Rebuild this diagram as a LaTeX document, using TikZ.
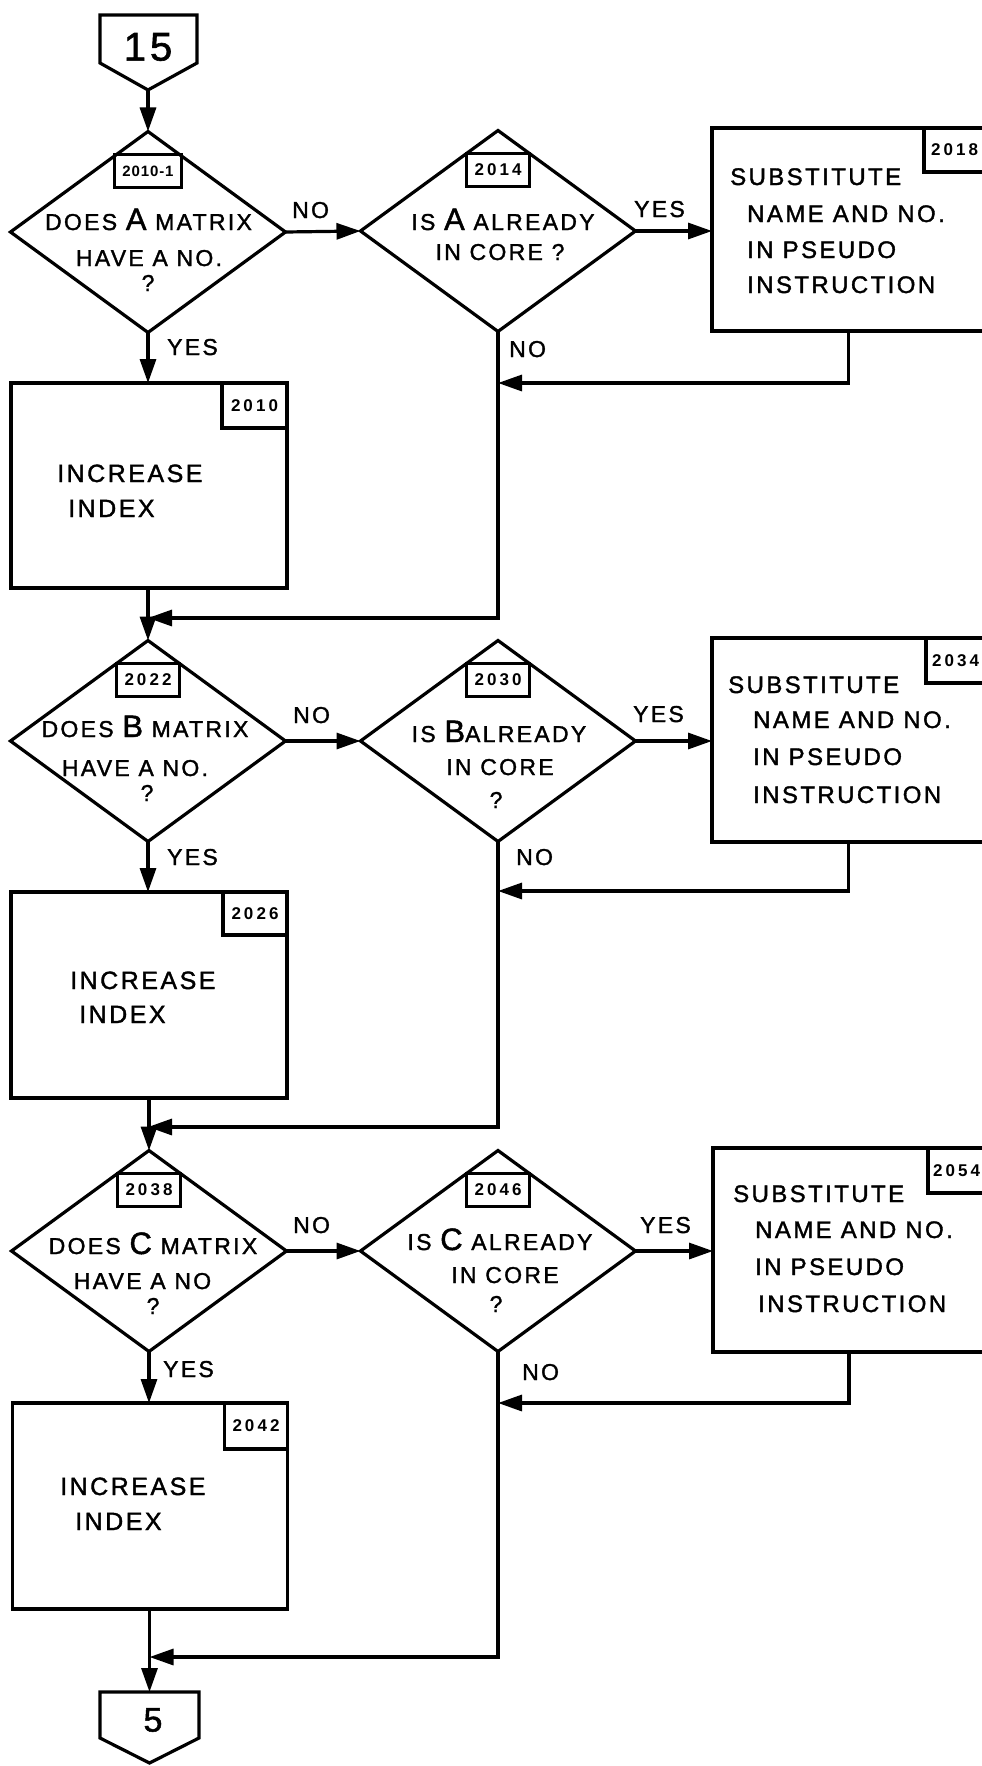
\documentclass[tikz,border=0pt]{standalone}
\usepackage{fontspec}
\usetikzlibrary{shapes.geometric,arrows.meta}
\newfontfamily\hand{Liberation Sans}[LetterSpace=10,FakeBold=1.5]
\newfontfamily\handnum{Liberation Sans}[LetterSpace=18]
\newfontfamily\handnumb{Liberation Sans}[LetterSpace=6]
\newcommand\Ltr[1]{{\fontsize{31}{31}\selectfont #1}}
\begin{document}
\begin{tikzpicture}[x=1pt,y=-1pt,
  ln/.style={line width=3.2pt,line join=miter},
  arr/.style={line width=3.2pt,-{Triangle[length=24pt,width=16pt]}},
  dec/.style={diamond,draw,line width=3.2pt,minimum width=275pt,minimum height=201pt,inner sep=0pt,outer sep=0pt},
  proc/.style={rectangle,draw,line width=3.2pt,inner sep=0pt,outer sep=0pt},
  numbox/.style={proc,font=\handnum\bfseries\fontsize{17}{17}\selectfont},
  tx/.style={inner sep=0pt,anchor=base,font=\hand\fontsize{23}{27}\selectfont},
  btx/.style={inner sep=0pt,anchor=base west,font=\hand\fontsize{24}{28}\selectfont},
  itx/.style={inner sep=0pt,anchor=base west,font=\hand\fontsize{25}{29}\selectfont},
  lab/.style={inner sep=0pt,anchor=base west,font=\hand\fontsize{23}{27}\selectfont},
  ctx/.style={inner sep=0pt,font=\hand\fontsize{40}{40}\selectfont}
]
\useasboundingbox (0,0) rectangle (982,1766);
\clip (0,0) rectangle (982,1766);

% ---------- connector 15 ----------
\node[ctx] (c15) at (148,47) {15};
\coordinate (c15tip) at (148,90);
\draw[ln] (100,15) -- (197,15) -- (197,63) -- (c15tip) -- (100,63) -- cycle;

% ---------- row A ----------
\node[dec] (d1) at (148,232) {};
\node[dec] (d2) at (498,231) {};
\node[numbox,font=\handnumb\bfseries\fontsize{15}{15}\selectfont,minimum width=67pt,minimum height=33pt,anchor=north] (n1) at ([yshift=-23pt]d1.north) {2010-1};
\node[numbox,minimum width=63pt,minimum height=33pt,anchor=north] (n2) at ([yshift=-23pt]d2.north) {2014};
\node[proc,minimum width=273pt,minimum height=203pt] (s1) at (848.5,229.5) {};
\node[numbox,minimum width=61pt,minimum height=44pt,anchor=north east] (r1) at (s1.north east) {2018};
\node[proc,minimum width=276pt,minimum height=205pt] (b1) at (149,485.5) {};
\node[numbox,minimum width=65pt,minimum height=45pt,anchor=north east] (l1) at (b1.north east) {2010};

\node[tx] (t1a) at (148.5,230) {DOES \Ltr{A} MATRIX};
\node[tx] (t1b) at (149,266) {HAVE A NO.};
\node[tx] (t1c) at (148,291) {?};
\node[tx] (t2a) at (503,230) {IS \Ltr{A} ALREADY};
\node[tx] (t2b) at (500,260) {IN CORE ?};

\node[btx] (s1a) at (730,185) {SUBSTITUTE};
\node[btx] (s1b) at (747,222) {NAME AND NO.};
\node[btx] (s1c) at (747,258) {IN PSEUDO};
\node[btx] (s1d) at (747,293) {INSTRUCTION};
\node[itx] (b1a) at (57,482) {INCREASE};
\node[itx] (b1b) at (68,517) {INDEX};

\node[lab] (la1) at (292,218) {NO};
\node[lab] (la2) at (167,355) {YES};
\node[lab] (la3) at (634,217) {YES};
\node[lab] (la4) at (509,357) {NO};

\coordinate (j1) at (498,383);
\coordinate (m1) at (148,618);
\draw[arr] (c15tip) -- (d1.north);
\draw[arr] (d1.east) -- (d2.west);
\draw[arr] (d2.east) -- (d2.east -| s1.west);
\draw[arr] (d1.south) -- (d1.south |- b1.north);
\draw[arr] (s1.south) |- (j1);
\draw[arr] (d2.south) |- (m1);

% ---------- row B ----------
\node[dec] (d3) at (148,741) {};
\node[dec] (d4) at (498,741) {};
\node[numbox,minimum width=63pt,minimum height=33pt,anchor=north] (n3) at ([yshift=-23pt]d3.north) {2022};
\node[numbox,minimum width=63pt,minimum height=33pt,anchor=north] (n4) at ([yshift=-23pt]d4.north) {2030};
\node[proc,minimum width=273pt,minimum height=204pt] (s2) at (848.5,740) {};
\node[numbox,minimum width=59pt,minimum height=45pt,anchor=north east] (r2) at (s2.north east) {2034};
\node[proc,minimum width=276pt,minimum height=206pt] (b2) at (149,995) {};
\node[numbox,minimum width=64pt,minimum height=43pt,anchor=north east] (l2) at (b2.north east) {2026};

\node[tx] (t3a) at (145,737) {DOES \Ltr{B} MATRIX};
\node[tx] (t3b) at (135,776) {HAVE A NO.};
\node[tx] (t3c) at (147,801) {?};
\node[tx] (t4a) at (499,742) {IS \Ltr{B}ALREADY};
\node[tx] (t4b) at (500,775) {IN CORE};
\node[tx] (t4c) at (496,808) {?};

\node[btx] (s2a) at (728,693) {SUBSTITUTE};
\node[btx] (s2b) at (753,728) {NAME AND NO.};
\node[btx] (s2c) at (753,765) {IN PSEUDO};
\node[btx] (s2d) at (753,803) {INSTRUCTION};
\node[itx] (b2a) at (70,989) {INCREASE};
\node[itx] (b2b) at (79,1023) {INDEX};

\node[lab] (lb1) at (293,723) {NO};
\node[lab] (lb2) at (167,865) {YES};
\node[lab] (lb3) at (633,722) {YES};
\node[lab] (lb4) at (516,865) {NO};

\coordinate (j2) at (498,891);
\coordinate (m2) at (148,1127);
\draw[arr] (d3.north |- b1.south) -- (d3.north);
\draw[arr] (d3.east) -- (d4.west);
\draw[arr] (d4.east) -- (d4.east -| s2.west);
\draw[arr] (d3.south) -- (d3.south |- b2.north);
\draw[arr] (s2.south) |- (j2);
\draw[arr] (d4.south) |- (m2);

% ---------- row C ----------
\node[dec] (d5) at (149,1251) {};
\node[dec] (d6) at (498,1251) {};
\node[numbox,minimum width=63pt,minimum height=33pt,anchor=north] (n5) at ([yshift=-23pt]d5.north) {2038};
\node[numbox,minimum width=63pt,minimum height=33pt,anchor=north] (n6) at ([yshift=-23pt]d6.north) {2046};
\node[proc,minimum width=272pt,minimum height=204pt] (s3) at (849,1250) {};
\node[numbox,minimum width=57pt,minimum height=45pt,anchor=north east] (r3) at (s3.north east) {2054};
\node[proc,minimum width=275pt,minimum height=206pt] (b3) at (150,1506) {};
\node[numbox,minimum width=63pt,minimum height=46pt,anchor=north east] (l3) at (b3.north east) {2042};

\node[tx] (t5a) at (153,1254) {DOES \Ltr{C} MATRIX};
\node[tx] (t5b) at (142.5,1289) {HAVE A NO};
\node[tx] (t5c) at (153,1314) {?};
\node[tx] (t6a) at (500,1250) {IS \Ltr{C} ALREADY};
\node[tx] (t6b) at (505,1283) {IN CORE};
\node[tx] (t6c) at (496,1312) {?};

\node[btx] (s3a) at (733,1202) {SUBSTITUTE};
\node[btx] (s3b) at (755,1238) {NAME AND NO.};
\node[btx] (s3c) at (755,1275) {IN PSEUDO};
\node[btx] (s3d) at (758,1312) {INSTRUCTION};
\node[itx] (b3a) at (60,1495) {INCREASE};
\node[itx] (b3b) at (75,1530) {INDEX};

\node[lab] (lc1) at (293,1233) {NO};
\node[lab] (lc2) at (163,1377) {YES};
\node[lab] (lc3) at (640,1233) {YES};
\node[lab] (lc4) at (522,1380) {NO};

\coordinate (j3) at (498,1403);
\coordinate (m3) at (149.5,1657);
\draw[arr] (d5.north |- b2.south) -- (d5.north);
\draw[arr] (d5.east) -- (d6.west);
\draw[arr] (d6.east) -- (d6.east -| s3.west);
\draw[arr] (d5.south) -- (d5.south |- b3.north);
\draw[arr] (s3.south) |- (j3);
\draw[arr] (d6.south) |- (m3);

% ---------- connector 5 ----------
\node[ctx,font=\hand\fontsize{34}{34}\selectfont] (c5) at (153,1720) {5};
\coordinate (c5top) at (149.5,1692);
\draw[ln] (100,1692) -- (199,1692) -- (199,1738) -- (149.5,1763) -- (100,1738) -- cycle;
\draw[arr] (c5top |- b3.south) -- (c5top);
\end{tikzpicture}
\end{document}
